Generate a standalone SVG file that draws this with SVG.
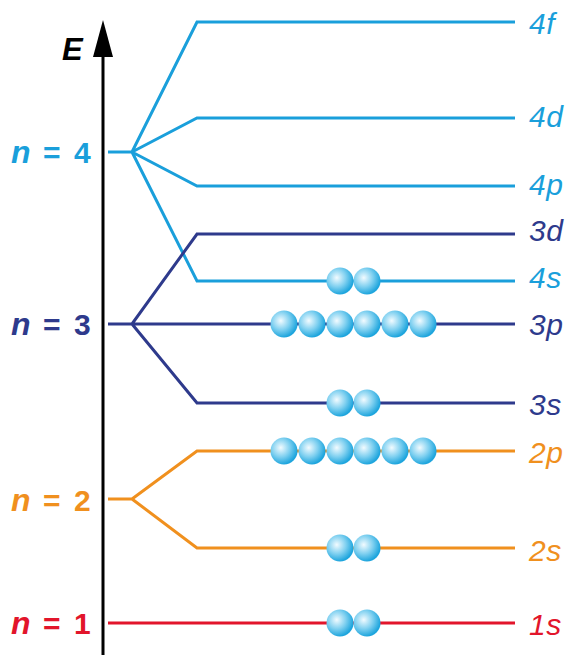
<svg xmlns="http://www.w3.org/2000/svg" width="572" height="655" viewBox="0 0 572 655">
<style>
.lv{fill:none;stroke-width:3;stroke-linejoin:miter}
.c4{stroke:#1a9fdb}.c3{stroke:#2e3a8c}.c2{stroke:#f0901e}.c1{stroke:#e2152b}
.t4{fill:#1a9fdb}.t3{fill:#2e3a8c}.t2{fill:#f0901e}.t1{fill:#e2152b}
.lab{font-family:"Liberation Sans",Arial,sans-serif;font-size:30px;font-style:italic;letter-spacing:0.5px}
.n{font-family:"Liberation Sans",Arial,sans-serif;font-size:30px;font-weight:bold}
.i{font-style:italic;font-size:32px}
</style>
<defs>
<radialGradient id="eg" cx="0.38" cy="0.38" r="0.62">
<stop offset="0" stop-color="#f2fbff"/>
<stop offset="0.55" stop-color="#7fd0f0"/>
<stop offset="1" stop-color="#1ea5dd"/>
</radialGradient>
</defs>
<g id="axis">
<line x1="103" y1="655" x2="103" y2="52" stroke="#000" stroke-width="3"/>
<polygon points="103,20 93,57 113,57" fill="#000"/>
<text x="62" y="60" font-family="Liberation Sans,Arial,sans-serif" font-size="31" font-weight="bold" font-style="italic">E</text>
</g>
<g id="connectors">
<path class="lv c4" d="M108,152H132L197,22H515M132,152L197,118H515M132,152L197,186H515M132,152L197,281H515"/>
<path class="lv c3" d="M108,324H132L197,234H515M132,324H515M132,324L197,403H515"/>
<path class="lv c2" d="M108,499H132L197,451H515M132,499L197,548H515"/>
<path class="lv c1" d="M108,623H515"/>
</g>
<g id="n4"><text class="n t4" y="163"><tspan class="i" x="11">n</tspan><tspan x="43">=</tspan><tspan x="74">4</tspan></text></g>
<g id="n3"><text class="n t3" y="335"><tspan class="i" x="11">n</tspan><tspan x="43">=</tspan><tspan x="74">3</tspan></text></g>
<g id="n2"><text class="n t2" y="511"><tspan class="i" x="11">n</tspan><tspan x="43">=</tspan><tspan x="74">2</tspan></text></g>
<g id="n1"><text class="n t1" y="634"><tspan class="i" x="11">n</tspan><tspan x="43">=</tspan><tspan x="74">1</tspan></text></g>
<g id="labels" class="lab">
<text class="t4" x="529" y="34">4f</text>
<text class="t4" x="529" y="127">4d</text>
<text class="t4" x="529" y="195">4p</text>
<text class="t3" x="529" y="241">3d</text>
<text class="t4" x="529" y="288">4s</text>
<text class="t3" x="529" y="335">3p</text>
<text class="t3" x="529" y="415">3s</text>
<text class="t2" x="529" y="463">2p</text>
<text class="t2" x="529" y="561">2s</text>
<text class="t1" x="529" y="635">1s</text>
</g>
<g id="electrons" fill="url(#eg)">
<circle cx="340" cy="281" r="13.5"/><circle cx="367" cy="281" r="13.5"/>
<circle cx="284" cy="324" r="13.5"/><circle cx="312" cy="324" r="13.5"/><circle cx="340" cy="324" r="13.5"/><circle cx="367" cy="324" r="13.5"/><circle cx="395" cy="324" r="13.5"/><circle cx="423" cy="324" r="13.5"/>
<circle cx="340" cy="403" r="13.5"/><circle cx="367" cy="403" r="13.5"/>
<circle cx="284" cy="451" r="13.5"/><circle cx="312" cy="451" r="13.5"/><circle cx="340" cy="451" r="13.5"/><circle cx="367" cy="451" r="13.5"/><circle cx="395" cy="451" r="13.5"/><circle cx="423" cy="451" r="13.5"/>
<circle cx="340" cy="548" r="13.5"/><circle cx="367" cy="548" r="13.5"/>
<circle cx="340" cy="623" r="13.5"/><circle cx="367" cy="623" r="13.5"/>
</g>
</svg>
